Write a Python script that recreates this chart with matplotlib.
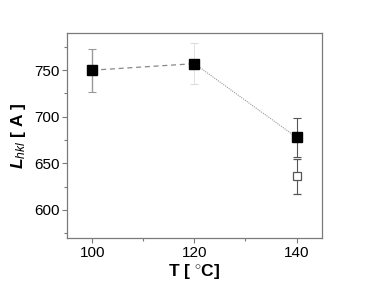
import matplotlib
matplotlib.use("Agg")
import matplotlib.pyplot as plt
from matplotlib.ticker import MultipleLocator

plt.rcParams['font.family'] = ['Liberation Sans', 'DejaVu Sans']
plt.rcParams['mathtext.fontset'] = 'custom'
plt.rcParams['mathtext.rm'] = 'Liberation Sans'
plt.rcParams['mathtext.it'] = 'Liberation Sans:italic'
plt.rcParams['mathtext.bf'] = 'Liberation Sans:bold'
plt.rcParams['mathtext.bfit'] = 'Liberation Sans:italic:bold'

# filled squares (connected)
temp = [100, 120, 140]
size = [750, 757, 678]
err = [23, 22, 21]
# open square at 140 C
temp_open = [140]
size_open = [636]
err_open = [19]

fig = plt.figure(figsize=(3.74, 2.86), dpi=100)
ax = fig.add_axes([0.179, 0.168, 0.682, 0.717])

grey = '#7a7a7a'
ax.plot(temp[:2], size[:2], ls=(0, (4, 3)), color='#888888', lw=0.9, zorder=1)
ax.plot(temp[1:], size[1:], ls=(0, (1, 1)), color='#999999', lw=0.8, zorder=1)

ax.errorbar(temp[0], size[0], yerr=err[0], fmt='none', ecolor='#999999',
            elinewidth=1.0, capsize=3, capthick=0.8, zorder=2)
ax.errorbar(temp[1], size[1], yerr=err[1], fmt='none', ecolor='#dddddd',
            elinewidth=0.6, capsize=3, capthick=0.8, zorder=2)
ax.errorbar(temp[2], size[2], yerr=err[2], fmt='none', ecolor='#555555',
            elinewidth=0.8, capsize=3, capthick=0.8, zorder=2)
ax.plot(temp, size, 's', color='black', ms=6.5, ls='none', zorder=3)

ax.errorbar(temp_open, size_open, yerr=err_open, fmt='s', mfc='white', mec='#555555',
            mew=0.9, ms=6, ecolor='#555555', elinewidth=0.8, capsize=3,
            capthick=0.8, zorder=3)

ax.set_xlim(95, 145)
ax.set_ylim(570, 790)
ax.set_xticks([100, 120, 140])
ax.set_yticks([600, 650, 700, 750])
ax.xaxis.set_minor_locator(MultipleLocator(10))
ax.yaxis.set_minor_locator(MultipleLocator(25))
ax.tick_params(which='major', direction='out', length=3.5, width=0.8, color=grey,
               labelsize=11, pad=2)
ax.tick_params(which='minor', direction='out', length=2, width=0.8, color=grey)
for s in ax.spines.values():
    s.set_color(grey)
    s.set_linewidth(0.9)

ax.set_xlabel(r'T [ $^{\circ}$C]', fontsize=12.5, fontweight='bold', labelpad=2)
ax.set_ylabel(r'$\mathbfit{L}_{\mathit{hkl}}$ [ A ]', fontsize=12.5,
              fontweight='bold', labelpad=4)

fig.savefig('out.png', dpi=100)
